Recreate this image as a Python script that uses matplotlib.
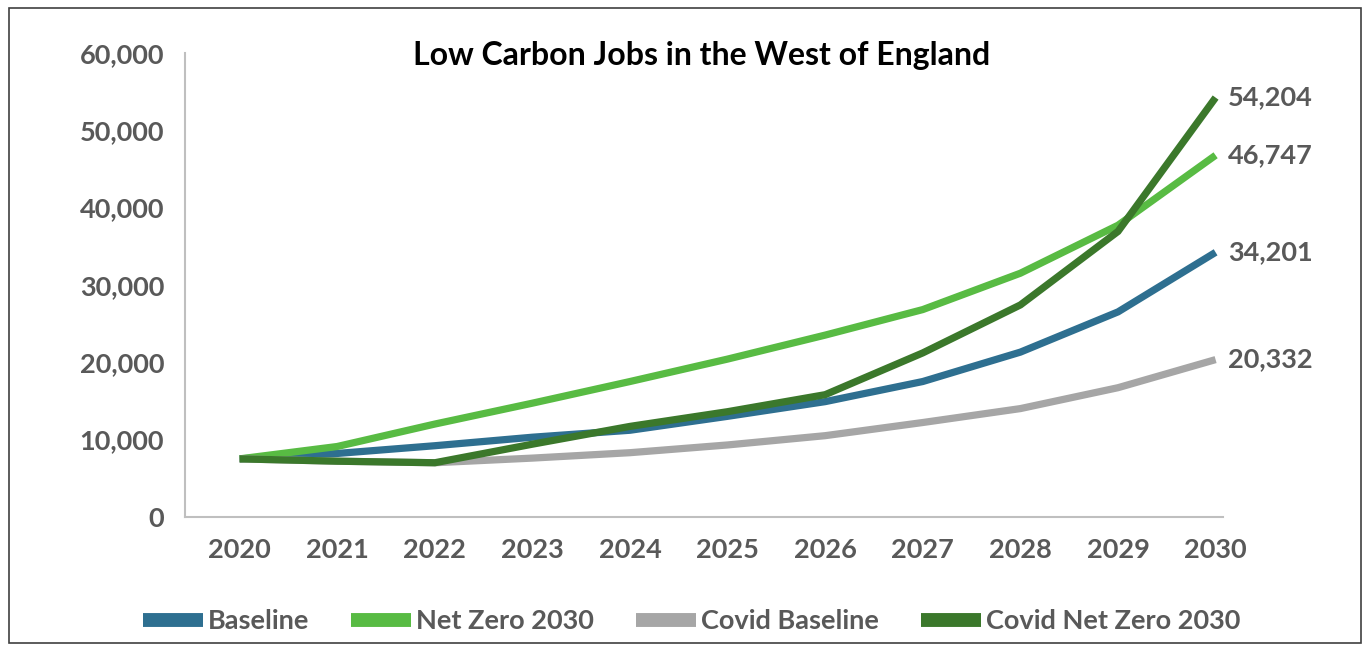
import matplotlib
matplotlib.use("Agg")
import matplotlib.pyplot as plt
from matplotlib.lines import Line2D
from matplotlib.patches import Rectangle
from matplotlib.ticker import FuncFormatter

years = [2020, 2021, 2022, 2023, 2024, 2025, 2026, 2027, 2028, 2029, 2030]
baseline = [7500, 8200, 9200, 10300, 11200, 13000, 14900, 17500, 21300, 26500, 34201]
net_zero = [7500, 9100, 12000, 14700, 17500, 20400, 23500, 26800, 31500, 37700, 46747]
covid_baseline = [7500, 7200, 7000, 7600, 8300, 9300, 10500, 12200, 14000, 16700, 20332]
covid_net_zero = [7500, 7200, 7000, 9400, 11700, 13600, 15800, 21200, 27400, 36900, 54204]

names = ["Baseline", "Net Zero 2030", "Covid Baseline", "Covid Net Zero 2030"]
colors = ["#2e6f90", "#58bb43", "#a6a6a6", "#3b782b"]
series = [baseline, net_zero, covid_baseline, covid_net_zero]

plt.rcParams['font.family'] = ['Lato', 'DejaVu Sans']
txt = "#595959"

fig = plt.figure(figsize=(13.7, 6.51), dpi=100)
ax = fig.add_axes([0.135, 0.206, 0.758, 0.713])

for vals, c in zip(series, colors):
    ax.plot(years, vals, color=c, lw=5.2, solid_capstyle="butt", solid_joinstyle="miter")

# labels at the end of each line
for vals in [covid_net_zero, net_zero, baseline, covid_baseline]:
    ax.annotate(f"{vals[-1]:,}", (years[-1], vals[-1]), xytext=(9, 0),
                textcoords="offset points", va="center", ha="left",
                fontsize=19.5, fontweight="bold", color=txt, annotation_clip=False)

ax.set_xlim(2019.44, 2030.08)
ax.set_ylim(0, 60000)
ax.set_xticks(years)
ax.set_yticks(range(0, 60001, 10000))
ax.yaxis.set_major_formatter(FuncFormatter(lambda v, p: f"{int(v):,}"))
ax.tick_params(length=0, labelsize=19.5, labelcolor=txt)
ax.tick_params(axis="x", pad=15)
ax.tick_params(axis="y", pad=15)
for lab in ax.get_xticklabels() + ax.get_yticklabels():
    lab.set_fontweight("bold")
for s in ["top", "right"]:
    ax.spines[s].set_visible(False)
for s in ["left", "bottom"]:
    ax.spines[s].set_color("#bfbfbf")
    ax.spines[s].set_linewidth(1.5)

fig.text(0.512, 0.915, "Low Carbon Jobs in the West of England", ha="center", va="center",
         fontsize=23, fontweight="bold", color="black")

handles = [Line2D([0], [0], color=c, lw=10, solid_capstyle="butt") for c in colors]
leg = fig.legend(handles, names, loc="center", bbox_to_anchor=(0.505, 0.046), ncol=4,
                 frameon=False, handlelength=2.2, handletextpad=0.2, columnspacing=1.55,
                 prop={"size": 19.5, "weight": "bold"})
for t in leg.get_texts():
    t.set_color(txt)

fig.patches.append(Rectangle((0.0066, 0.012), 0.9868, 0.976, transform=fig.transFigure,
                             fill=False, edgecolor="#404040", lw=1.2))

fig.savefig("out.png", dpi=100)
